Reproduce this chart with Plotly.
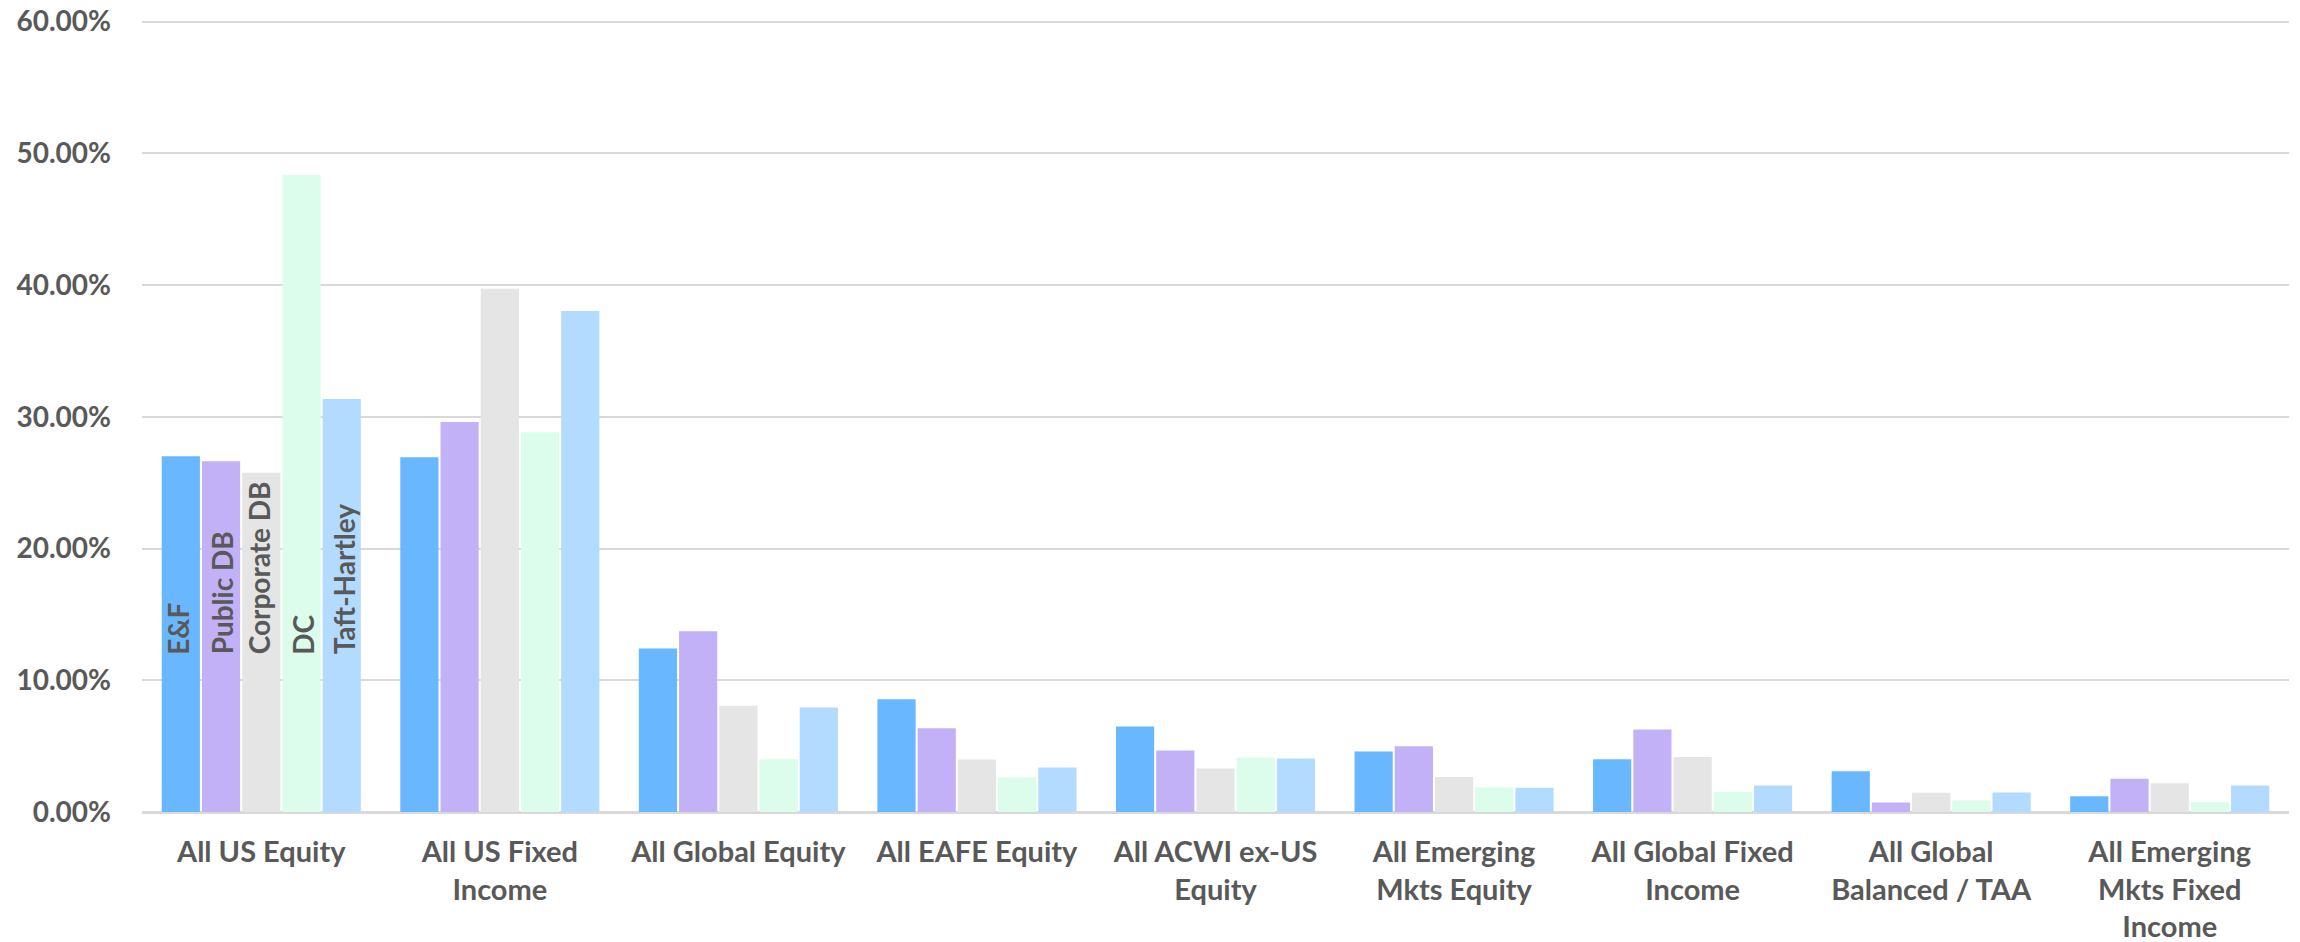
import plotly.graph_objects as go

categories = [
    "All US Equity", "All US Fixed<br>Income", "All Global Equity", "All EAFE Equity",
    "All ACWI ex-US<br>Equity", "All Emerging<br>Mkts Equity", "All Global Fixed<br>Income",
    "All Global<br>Balanced / TAA", "All Emerging<br>Mkts Fixed<br>Income",
]

series_names = ["E&F", "Public DB", "Corporate DB", "DC", "Taft-Hartley"]

ef = [0.2700, 0.2694, 0.1242, 0.0855, 0.0650, 0.0460, 0.0401, 0.0310, 0.0120]
public_db = [0.2663, 0.2961, 0.1372, 0.0635, 0.0467, 0.0500, 0.0627, 0.0072, 0.0252]
corporate_db = [0.2575, 0.3973, 0.0807, 0.0399, 0.0331, 0.0265, 0.0417, 0.0146, 0.0219]
dc = [0.4837, 0.2882, 0.0401, 0.0262, 0.0412, 0.0186, 0.0151, 0.0087, 0.0075]
taft_hartley = [0.3135, 0.3804, 0.0794, 0.0338, 0.0407, 0.0184, 0.0201, 0.0148, 0.0201]

colors = ["#69B8FF", "#C3B1F7", "#E5E5E5", "#DCFCEC", "#B3DBFF"]

# series labels sit inside the first group of bars
label_y = 0.118
label_shift = [-84, -39, -2, 41, 83]

text_col = "#595959"

fig = go.Figure()
for name, vals, col in zip(series_names, [ef, public_db, corporate_db, dc, taft_hartley], colors):
    fig.add_trace(go.Bar(name=name, x=categories, y=vals, marker_color=col,
                         marker_line_width=0, hoverinfo="name+y"))

annotations = []
for name, dx in zip(series_names, label_shift):
    annotations.append(dict(x=categories[0], y=label_y, text=name, textangle=-90,
                            showarrow=False, xanchor="center", yanchor="bottom", xshift=dx,
                            font=dict(family="Lato", size=28, color=text_col, weight="bold")))

fig.update_layout(
    width=2300, height=942,
    margin=dict(l=142, r=11, t=19, b=130),
    barmode="group", bargap=0.157, bargroupgap=0.05,
    plot_bgcolor="white", paper_bgcolor="white",
    showlegend=False,
    annotations=annotations,
)
fig.update_xaxes(
    automargin=False, showline=True, linecolor="#D9D9D9", linewidth=2,
    tickfont=dict(family="Lato", size=29, color=text_col, weight="bold"),
    ticks="", ticklabelstandoff=13,
)
# a hair of headroom so the 60% gridline is still drawn
fig.update_yaxes(
    range=[0, 0.602], dtick=0.1, tickformat=".2%", automargin=False,
    showgrid=True, gridcolor="#D9D9D9", gridwidth=1.5,
    zeroline=True, zerolinecolor="#D9D9D9", zerolinewidth=2,
    tickfont=dict(family="Lato", size=28, color=text_col, weight="bold"),
    ticklabelstandoff=30, ticklabeloverflow="allow",
)

# drop the default page margin so the figure sits at the window corner
fig.write_html("out.html", config={"displayModeBar": False},
               post_script="document.body.style.margin='0';")
